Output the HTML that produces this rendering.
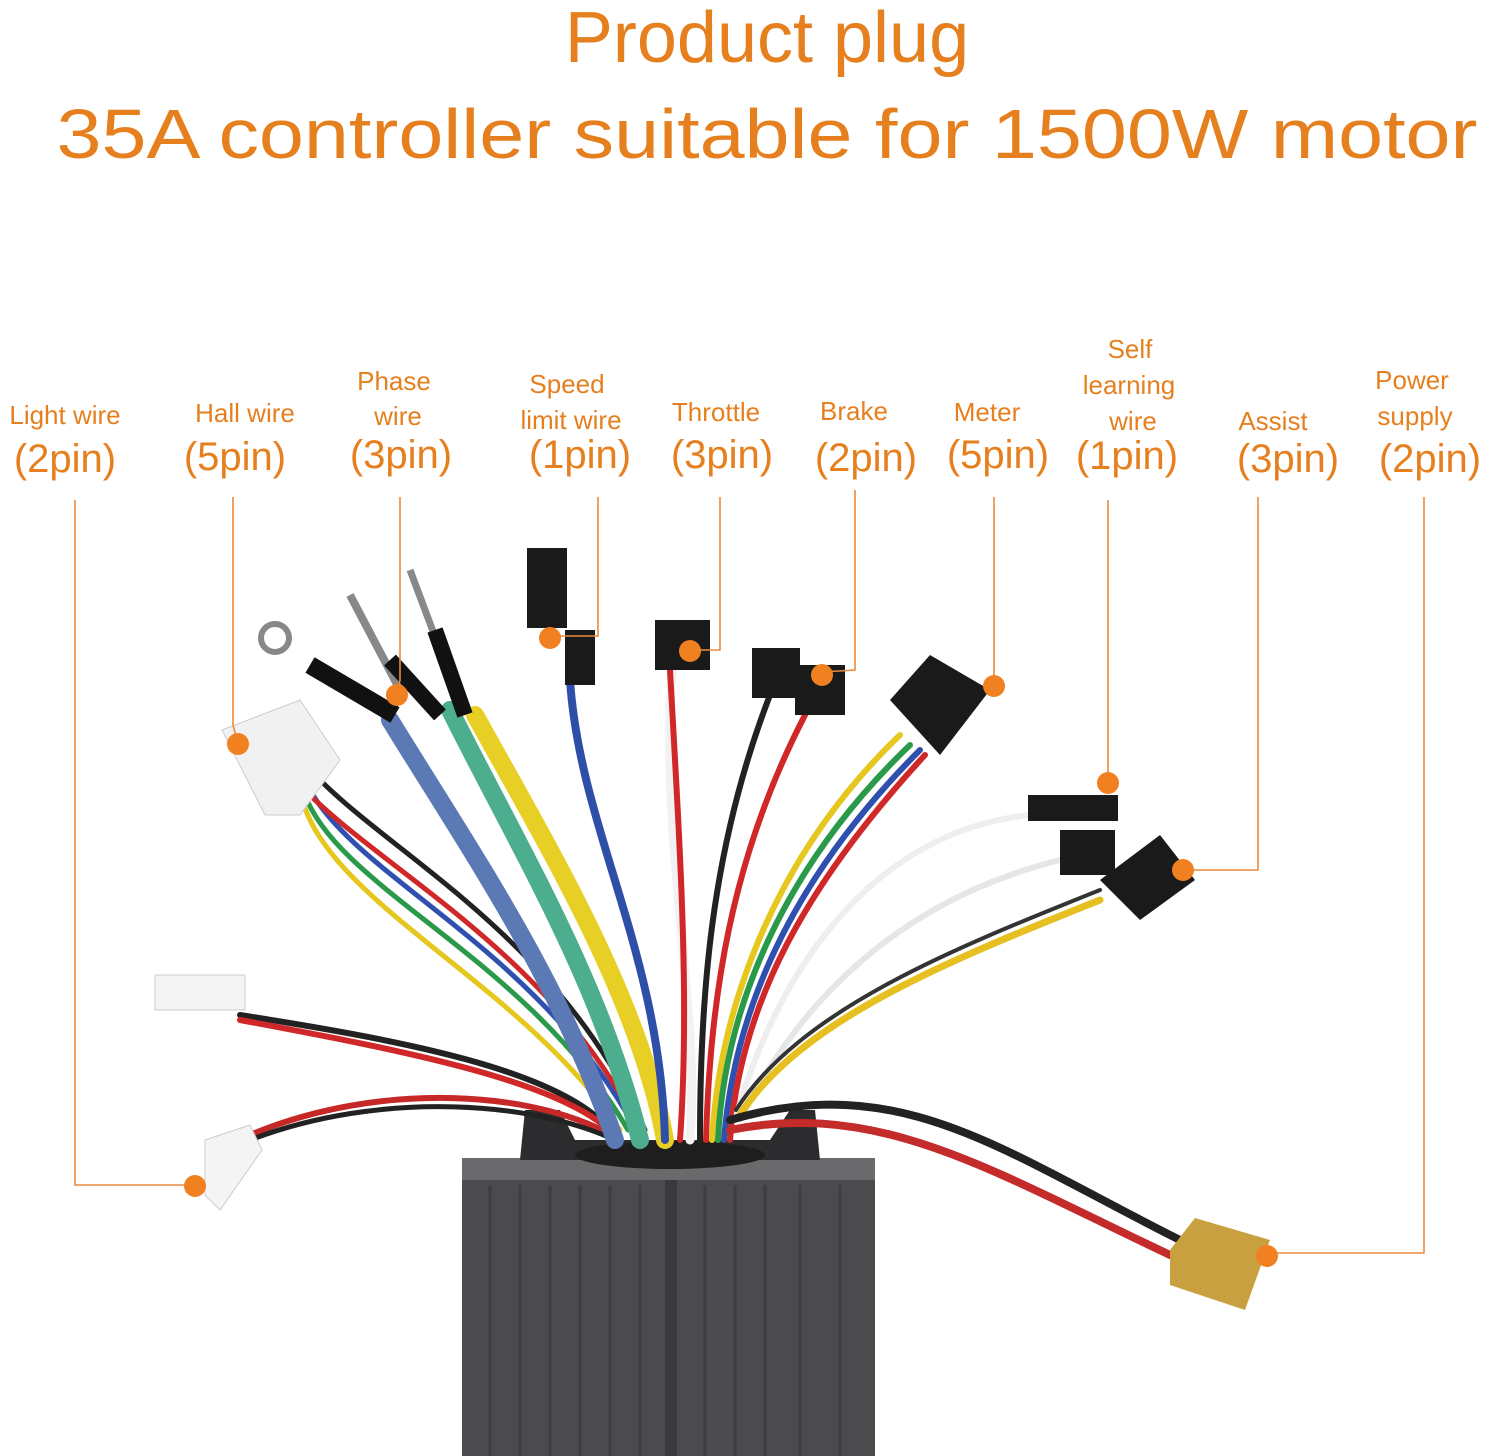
<!DOCTYPE html>
<html><head><meta charset="utf-8"><style>
html,body{margin:0;padding:0;background:#fff;}
svg{display:block;}
.t{font-family:"Liberation Sans",sans-serif;fill:#e67f1e;text-anchor:middle;}
.s{font-size:26px;}
.p{font-size:40px;}
.l{stroke:#eb8a3a;stroke-width:1.6;fill:none;}
.d{fill:#f08020;}
.w{fill:none;stroke-linecap:round;}
</style></head><body>
<svg width="1491" height="1456" viewBox="0 0 1491 1456" xmlns="http://www.w3.org/2000/svg">
<text class="t" x="767" y="62" font-size="72">Product plug</text>
<text class="t" x="767" y="158" font-size="70" textLength="1421" lengthAdjust="spacingAndGlyphs">35A controller suitable for 1500W motor</text>

<text class="t s" x="65" y="424">Light wire</text><text class="t p" x="65" y="472">(2pin)</text>
<text class="t s" x="245" y="422">Hall wire</text><text class="t p" x="235" y="470">(5pin)</text>
<text class="t s" x="394" y="390">Phase</text><text class="t s" x="398" y="425">wire</text><text class="t p" x="401" y="468">(3pin)</text>
<text class="t s" x="567" y="393">Speed</text><text class="t s" x="571" y="429">limit wire</text><text class="t p" x="580" y="468">(1pin)</text>
<text class="t s" x="716" y="421">Throttle</text><text class="t p" x="722" y="468">(3pin)</text>
<text class="t s" x="854" y="420">Brake</text><text class="t p" x="866" y="471">(2pin)</text>
<text class="t s" x="987" y="421">Meter</text><text class="t p" x="998" y="468">(5pin)</text>
<text class="t s" x="1130" y="358">Self</text><text class="t s" x="1129" y="394">learning</text><text class="t s" x="1133" y="430">wire</text><text class="t p" x="1127" y="469">(1pin)</text>
<text class="t s" x="1273" y="430">Assist</text><text class="t p" x="1288" y="472">(3pin)</text>
<text class="t s" x="1412" y="389">Power</text><text class="t s" x="1415" y="425">supply</text><text class="t p" x="1430" y="472">(2pin)</text>

<!-- controller -->
<rect x="462" y="1158" width="413" height="298" fill="#4b4b4d"/>
<rect x="462" y="1158" width="413" height="22" fill="#6a6a6c"/>
<rect x="665" y="1180" width="12" height="276" fill="#3a3a3c"/>
<g stroke="#3e3e40" stroke-width="3">
<line x1="490" y1="1185" x2="490" y2="1456"/><line x1="520" y1="1185" x2="520" y2="1456"/><line x1="550" y1="1185" x2="550" y2="1456"/><line x1="580" y1="1185" x2="580" y2="1456"/><line x1="610" y1="1185" x2="610" y2="1456"/><line x1="640" y1="1185" x2="640" y2="1456"/>
<line x1="705" y1="1185" x2="705" y2="1456"/><line x1="735" y1="1185" x2="735" y2="1456"/><line x1="765" y1="1185" x2="765" y2="1456"/><line x1="800" y1="1185" x2="800" y2="1456"/><line x1="840" y1="1185" x2="840" y2="1456"/>
</g>
<path d="M525 1110 L560 1110 L575 1140 L770 1140 L790 1110 L815 1110 L820 1160 L520 1160Z" fill="#2c2c2e"/>
<ellipse cx="670" cy="1155" rx="95" ry="14" fill="#1e1e1e"/>

<!-- wires -->
<g class="w">
<path d="M240 1015 C400 1040 560 1070 610 1130" stroke="#222" stroke-width="6"/>
<path d="M240 1020 C400 1050 560 1080 615 1135" stroke="#d02828" stroke-width="6"/>
<path d="M250 1135 C380 1080 540 1090 620 1140" stroke="#c62828" stroke-width="6"/>
<path d="M250 1140 C380 1090 540 1100 625 1145" stroke="#222" stroke-width="5"/>
<path d="M300 790 C320 900 520 980 620 1130" stroke="#e5c71d" stroke-width="5"/>
<path d="M305 795 C340 890 530 960 628 1130" stroke="#2a9a4a" stroke-width="5"/>
<path d="M310 790 C360 880 540 950 636 1130" stroke="#3050b0" stroke-width="5"/>
<path d="M300 785 C380 870 550 950 640 1130" stroke="#d02828" stroke-width="5"/>
<path d="M320 780 C400 860 560 940 645 1130" stroke="#222" stroke-width="5"/>
<path d="M390 720 C470 850 560 980 615 1140" stroke="#5b7ab5" stroke-width="18"/>
<path d="M450 710 C520 850 600 980 640 1140" stroke="#4cae8e" stroke-width="18"/>
<path d="M475 715 C550 850 640 1000 665 1140" stroke="#e8cf26" stroke-width="18"/>
<path d="M570 680 C580 830 660 950 665 1140" stroke="#2e4fa8" stroke-width="8"/>
<path d="M672 670 C660 850 700 1000 690 1140" stroke="#f2f2f2" stroke-width="9"/>
<path d="M670 670 C680 850 690 1000 680 1140" stroke="#d02828" stroke-width="6"/>
<path d="M770 695 C710 850 700 1000 700 1140" stroke="#222" stroke-width="6"/>
<path d="M805 715 C730 860 710 1000 706 1140" stroke="#d02828" stroke-width="6"/>
<path d="M900 735 C780 850 720 1000 712 1140" stroke="#e5c71d" stroke-width="6"/>
<path d="M910 745 C790 860 725 1000 718 1140" stroke="#2a9a4a" stroke-width="6"/>
<path d="M920 750 C800 870 735 1000 724 1140" stroke="#3050b0" stroke-width="6"/>
<path d="M925 755 C810 880 740 1000 730 1140" stroke="#d02828" stroke-width="6"/>
<path d="M1030 815 C880 830 780 960 735 1120" stroke="#eee" stroke-width="6"/>
<path d="M1060 860 C900 900 800 1000 740 1120" stroke="#e6e6e6" stroke-width="6"/>
<path d="M1100 900 C950 960 800 1020 740 1115" stroke="#e5c020" stroke-width="7"/>
<path d="M1100 890 C950 950 800 1010 736 1110" stroke="#333" stroke-width="4"/>
<path d="M730 1120 C900 1070 1000 1150 1180 1240" stroke="#222" stroke-width="8"/>
<path d="M730 1130 C880 1100 990 1170 1170 1255" stroke="#c42b2b" stroke-width="8"/>
</g>
<!-- connectors -->
<path d="M222 730 L300 700 L340 760 L300 815 L265 815Z" fill="#f1f1f1" stroke="#ccc"/>
<rect x="155" y="975" width="90" height="35" fill="#f4f4f4" stroke="#ccc"/>
<path d="M205 1140 L250 1125 L262 1150 L220 1210 L205 1195Z" fill="#f4f4f4" stroke="#ccc"/>
<circle cx="275" cy="638" r="14" fill="none" stroke="#888" stroke-width="6"/>
<path d="M310 665 L395 715" stroke="#111" stroke-width="18"/>
<path d="M350 595 L400 690" stroke="#888" stroke-width="8"/><path d="M390 660 L440 715" stroke="#111" stroke-width="16"/>
<path d="M410 570 L440 650" stroke="#888" stroke-width="7"/><path d="M435 630 L465 715" stroke="#111" stroke-width="16"/>
<rect x="527" y="548" width="40" height="80" fill="#1a1a1a"/><rect x="565" y="630" width="30" height="55" fill="#1a1a1a"/>
<rect x="655" y="620" width="55" height="50" fill="#1a1a1a"/>
<rect x="752" y="648" width="48" height="50" fill="#1a1a1a"/><rect x="795" y="665" width="50" height="50" fill="#1a1a1a"/>
<path d="M890 700 L930 655 L990 690 L940 755Z" fill="#1a1a1a"/>
<rect x="1028" y="795" width="90" height="26" fill="#1a1a1a"/>
<rect x="1060" y="830" width="55" height="45" fill="#1a1a1a"/>
<path d="M1100 880 L1160 835 L1195 880 L1140 920Z" fill="#1a1a1a"/>
<path d="M1170 1250 L1195 1218 L1270 1240 L1245 1310 L1170 1285Z" fill="#c9a040"/>

<!-- leaders -->
<polyline class="l" points="75,500 75,1185 195,1185"/>
<polyline class="l" points="233,497 233,725 238,744"/>
<polyline class="l" points="400,497 400,680 397,695"/>
<polyline class="l" points="598,497 598,636 550,636"/>
<polyline class="l" points="720,497 720,650 690,650"/>
<polyline class="l" points="855,490 855,670 822,672"/>
<polyline class="l" points="994,497 994,686"/>
<polyline class="l" points="1108,500 1108,783"/>
<polyline class="l" points="1258,497 1258,870 1183,870"/>
<polyline class="l" points="1424,497 1424,1253 1267,1253"/>
<g class="d">
<circle cx="195" cy="1186" r="11"/><circle cx="238" cy="744" r="11"/><circle cx="397" cy="695" r="11"/>
<circle cx="550" cy="638" r="11"/><circle cx="690" cy="651" r="11"/><circle cx="822" cy="675" r="11"/>
<circle cx="994" cy="686" r="11"/><circle cx="1108" cy="783" r="11"/><circle cx="1183" cy="870" r="11"/>
<circle cx="1267" cy="1256" r="11"/>
</g>
</svg>
</body></html>
